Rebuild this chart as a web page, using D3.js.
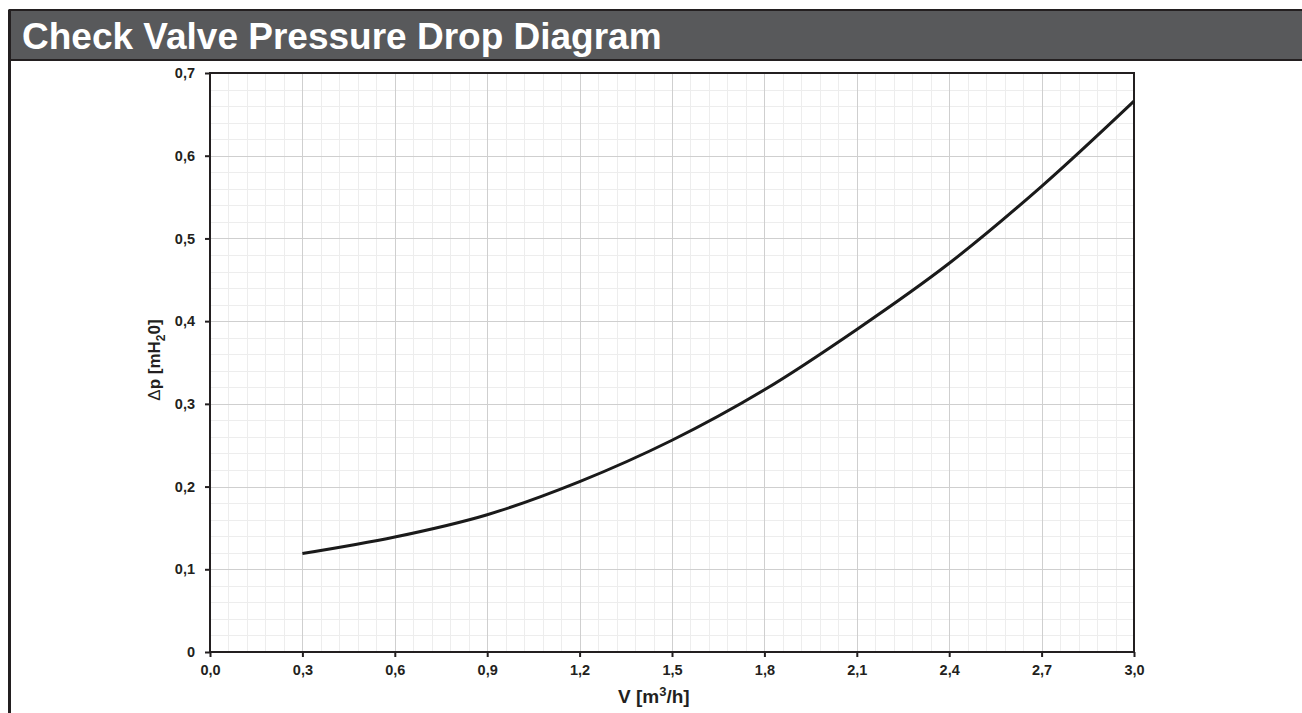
<!DOCTYPE html>
<meta charset="utf-8">
<style>
html, body { margin: 0; padding: 0; background: #fff; }
body { width: 1302px; height: 713px; overflow: hidden; }
text { font-family: "Liberation Sans", Arial, sans-serif; font-weight: bold; fill: #231f20; }
</style>
<body>
<script src="https://cdn.jsdelivr.net/npm/d3@7/dist/d3.min.js"></script>
<script>

var width = 1302,
    height = 713;

// flow rate [m3/h] and pressure drop [mH2O]
var flow = [0.3, 0.6, 0.9, 1.2, 1.5, 1.8, 2.1, 2.4, 2.7, 3.0];
var drop = [0.119, 0.139, 0.166, 0.206, 0.256, 0.317, 0.390, 0.470, 0.563, 0.666];

var xTicks = [0, 0.3, 0.6, 0.9, 1.2, 1.5, 1.8, 2.1, 2.4, 2.7, 3.0];
var yTicks = [0, 0.1, 0.2, 0.3, 0.4, 0.5, 0.6, 0.7];

var title = "Check Valve Pressure Drop Diagram";

var plot = {left: 210, right: 1134, top: 73, bottom: 652};

var svg = d3.select("body").append("svg")
    .attr("width", width)
    .attr("height", height);

// header bar
svg.append("rect")
    .attr("x", 9.5).attr("y", 10)
    .attr("width", width + 10).attr("height", 50)
    .attr("fill", "#58595b")
    .attr("stroke", "#231f20")
    .attr("stroke-width", 2);

svg.append("line")
    .attr("x1", 9.5).attr("x2", 9.5)
    .attr("y1", 10).attr("y2", height)
    .attr("stroke", "#231f20")
    .attr("stroke-width", 3);

svg.append("text")
    .attr("x", 22).attr("y", 49)
    .style("font-size", "37px")
    .style("fill", "#fff")
    .text(title);

var x = d3.scaleLinear().domain([0, 3]).range([plot.left, plot.right]);
var y = d3.scaleLinear().domain([0, 0.7]).range([plot.bottom, plot.top]);

function comma(d){ return d3.format(".1f")(d).replace(".", ","); }

// minor grid
var g = svg.append("g").attr("class", "grid");
var xMinor = d3.range(0, 3.0001, 0.06);
var yMinor = d3.range(0, 0.7001, 0.02);

g.selectAll("line.xm").data(xMinor).enter().append("line")
    .attr("x1", function(d){ return Math.round(x(d)) + 0.5; })
    .attr("x2", function(d){ return Math.round(x(d)) + 0.5; })
    .attr("y1", plot.top).attr("y2", plot.bottom)
    .attr("stroke", "#ededed");

g.selectAll("line.ym").data(yMinor).enter().append("line")
    .attr("y1", function(d){ return Math.round(y(d)) + 0.5; })
    .attr("y2", function(d){ return Math.round(y(d)) + 0.5; })
    .attr("x1", plot.left).attr("x2", plot.right)
    .attr("stroke", "#ededed");

// major grid
g.selectAll("line.xM").data(xTicks).enter().append("line")
    .attr("x1", function(d){ return Math.round(x(d)) + 0.5; })
    .attr("x2", function(d){ return Math.round(x(d)) + 0.5; })
    .attr("y1", plot.top).attr("y2", plot.bottom)
    .attr("stroke", "#cfcfcf");

g.selectAll("line.yM").data(yTicks).enter().append("line")
    .attr("y1", function(d){ return Math.round(y(d)) + 0.5; })
    .attr("y2", function(d){ return Math.round(y(d)) + 0.5; })
    .attr("x1", plot.left).attr("x2", plot.right)
    .attr("stroke", "#cfcfcf");

// axes
var xAxis = d3.axisBottom(x).tickValues(xTicks).tickSize(5).tickPadding(8)
    .tickFormat(comma);
var yAxis = d3.axisLeft(y).tickValues(yTicks).tickSize(5).tickPadding(10)
    .tickFormat(function(d){ return d === 0 ? "0" : comma(d); });

var gx = svg.append("g").attr("transform", "translate(0," + plot.bottom + ")").call(xAxis);
var gy = svg.append("g").attr("transform", "translate(" + plot.left + ",0)").call(yAxis);

[gx, gy].forEach(function(a){
  a.select(".domain").remove();
  a.selectAll(".tick line").attr("stroke", "#231f20").attr("stroke-width", 2);
  a.selectAll(".tick text")
    .style("font-size", "14.5px")
    .style("font-family", "'Liberation Sans', Arial, sans-serif")
    .style("font-weight", "bold")
    .attr("fill", "#231f20");
});

// frame
svg.append("rect")
    .attr("x", plot.left).attr("y", plot.top)
    .attr("width", plot.right - plot.left)
    .attr("height", plot.bottom - plot.top)
    .attr("fill", "none")
    .attr("stroke", "#231f20")
    .attr("stroke-width", 2);

// curve
var line = d3.line()
    .x(function(d, i){ return x(flow[i]); })
    .y(function(d){ return y(d); })
    .curve(d3.curveCatmullRom);

svg.append("path")
    .datum(drop)
    .attr("fill", "none")
    .attr("stroke", "#1a1a1a")
    .attr("stroke-width", 3)
    .attr("d", line);

// axis titles
var xt = svg.append("text")
    .attr("x", 618)
    .attr("y", 703)
    .style("font-size", "19px");
xt.append("tspan").text("V [m");
xt.append("tspan").attr("dy", -7).style("font-size", "13px").text("3");
xt.append("tspan").attr("dy", 7).text("/h]");

var yt = svg.append("text")
    .attr("transform", "translate(160,360) rotate(-90)")
    .attr("text-anchor", "middle")
    .style("font-size", "17px");
yt.append("tspan").style("font-weight", "normal").text("\u0394");
yt.append("tspan").text("p [mH");
yt.append("tspan").attr("dy", 5).style("font-size", "12px").text("2");
yt.append("tspan").attr("dy", -5).text("0]");

</script>
</body>
